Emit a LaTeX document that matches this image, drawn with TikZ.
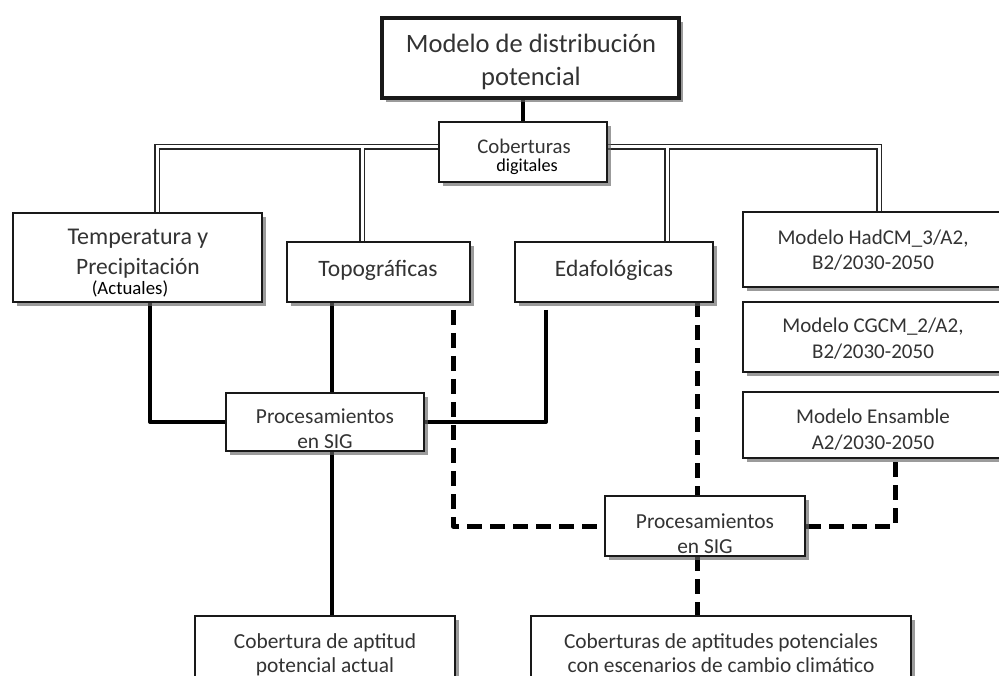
\documentclass[tikz,border=0pt]{standalone}
\usepackage{fontspec}
\setmainfont{Carlito}
\usetikzlibrary{shadows,calc}
\pgfdeclarelayer{background}
\pgfsetlayers{background,main}
\begin{document}
\begin{tikzpicture}[x=1pt,y=-1pt,
  box/.style={draw=black!90, line width=1.8pt, fill=white, inner sep=0pt, outer sep=0pt,
    anchor=north west,
    drop shadow={shadow xshift=4pt, shadow yshift=-4pt, fill=black!60, opacity=0.65}},
  txt/.style={anchor=base, inner sep=0pt, text=black!80, font=\fontsize{21.4}{25}\selectfont},
  btxt/.style={txt, font=\fontsize{23.5}{27}\selectfont},
  mtxt/.style={txt, font=\fontsize{21}{24}\selectfont},
  solidc/.style={draw=black, line width=4pt, line join=round},
  dashc/.style={draw=black, line width=5pt, dash pattern=on 15pt off 8pt, line join=round},
  dbl/.style={draw=black!85, double=white, double distance=3pt, line width=1.3pt}
]
\clip (0,0) rectangle (999,676);
\useasboundingbox (0,0) rectangle (999,676);

% boxes
\node[box, line width=4.5pt, minimum width=297pt, minimum height=80pt] (top) at (382,18) {};
\node[box, minimum width=168pt, minimum height=60pt] (cob) at (439,122) {};
\node[box, minimum width=249pt, minimum height=89pt] (temp) at (13,213) {};
\node[box, minimum width=183pt, minimum height=60pt] (topo) at (287,242) {};
\node[box, minimum width=198pt, minimum height=60pt] (edaf) at (515,242) {};
\node[box, minimum width=262pt, minimum height=75pt] (had) at (743,212) {};
\node[box, minimum width=262pt, minimum height=70pt] (cgcm) at (743,302) {};
\node[box, minimum width=262pt, minimum height=66pt] (ens) at (743,392) {};
\node[box, minimum width=198pt, minimum height=58pt] (p1) at (226,393) {};
\node[box, minimum width=200pt, minimum height=60pt] (p2) at (605,496) {};
\node[box, minimum width=260pt, minimum height=90pt] (cob1) at (195,616) {};
\node[box, minimum width=380pt, minimum height=90pt] (cob2) at (531,616) {};

% texts
\node[txt, font=\fontsize{26.5}{30}\selectfont] (topA) at (531,53) {Modelo de distribución};
\node[txt, font=\fontsize{26.5}{30}\selectfont] (topB) at (531,86) {potencial};
\node[txt, font=\fontsize{20.8}{24}\selectfont] (cobA) at (524,154) {Coberturas};
\node[txt, font=\fontsize{18.2}{21}\selectfont, text=black] (cobB) at (527,172) {digitales};
\node[btxt, font=\fontsize{24}{28}\selectfont] (tempA) at (138,245) {Temperatura y};
\node[btxt] (tempB) at (138,275) {Precipitación};
\node[txt, font=\fontsize{18.8}{21}\selectfont, text=black] (tempC) at (130,295) {(Actuales)};
\node[btxt] (topoA) at (378,277) {Topográficas};
\node[btxt] (edafA) at (614,277) {Edafológicas};
\node[mtxt] (hadA) at (873,245) {Modelo HadCM\_3/A2,};
\node[mtxt] (hadB) at (873,270) {B2/2030-2050};
\node[mtxt] (cgcmA) at (873,333) {Modelo CGCM\_2/A2,};
\node[mtxt] (cgcmB) at (873,359) {B2/2030-2050};
\node[mtxt] (ensA) at (873,423) {Modelo Ensamble};
\node[mtxt] (ensB) at (873,449) {A2/2030-2050};
\node[txt] (p1A) at (325,423) {Procesamientos};
\node[txt] (p1B) at (325,448) {en SIG};
\node[txt] (p2A) at (705,528) {Procesamientos};
\node[txt] (p2B) at (705,553) {en SIG};
\node[txt] (cob1A) at (325,648) {Cobertura de aptitud};
\node[txt] (cob1B) at (325,672) {potencial actual};
\node[txt] (cob2A) at (721,648) {Coberturas de aptitudes potenciales};
\node[txt] (cob2B) at (721,672) {con escenarios de cambio climático};

% connectors
\begin{pgfonlayer}{background}
\coordinate (cL) at ($(cob.west)+(0,-5)$);
\coordinate (cR) at ($(cob.east)+(0,-5)$);
\coordinate (tempT) at ($(temp.north west)+(144,0)$);
\coordinate (topoT) at ($(topo.north west)+(75,0)$);
\coordinate (edafT) at ($(edaf.north west)+(152,0)$);
\coordinate (hadT) at ($(had.north west)+(136,0)$);
\draw[dbl] (cL) -| (tempT) (cL -| topoT) -- (topoT)
           (cR) -| (hadT) (cR -| edafT) -- (edafT);

\draw[solidc] (top.south -| cob.north) -- (cob.north);
\draw[solidc] ($(temp.south west)+(137,0)$) |- (p1.west);
\coordinate (topoB) at ($(topo.south west)+(45,0)$);
\draw[solidc] (topoB) -- (topoB |- p1.north);
\draw[solidc] ($(edaf.south west)+(31,8)$) |- (p1.east);
\draw[solidc] (p1.south -| topoB) -- (cob1.north -| topoB);

\draw[dashc] ($(topo.south west)+(166,8)$) |- (p2.west);
\coordinate (edafB) at ($(edaf.south west)+(182,0)$);
\draw[dashc] (edafB) -- (edafB |- p2.north);
\draw[dashc] ($(ens.south west)+(152,4)$) |- (p2.east);
\draw[dashc] (p2.south -| edafB) -- (cob2.north -| edafB);
\end{pgfonlayer}
\end{tikzpicture}
\end{document}
